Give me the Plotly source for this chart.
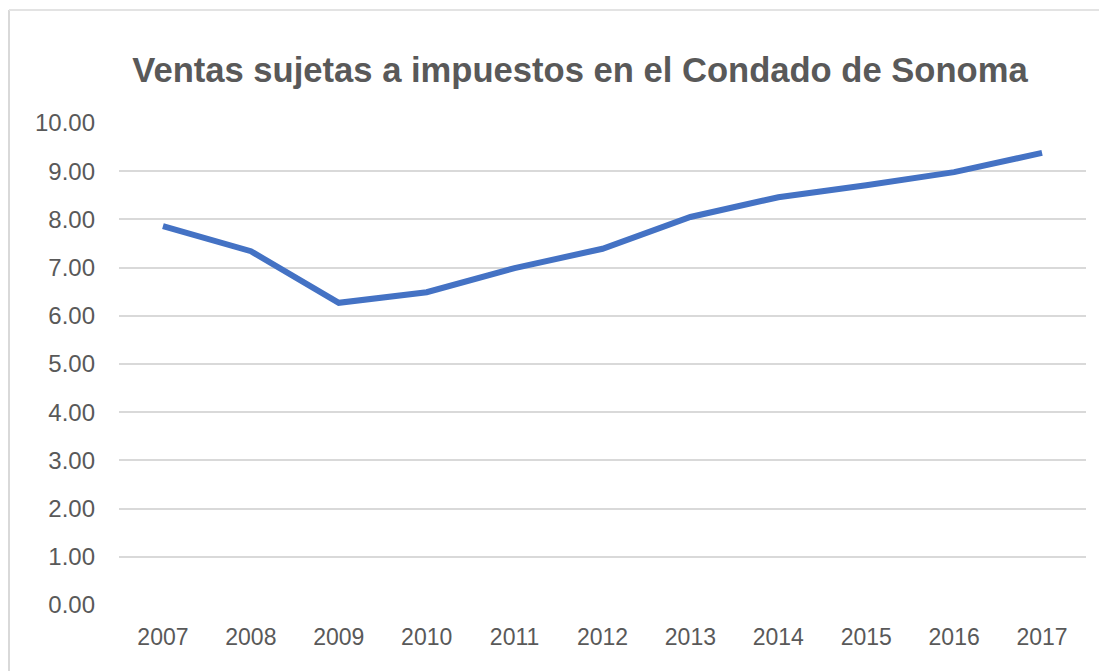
import plotly.graph_objects as go

years = ["2007", "2008", "2009", "2010", "2011", "2012", "2013", "2014", "2015", "2016", "2017"]
ventas = [7.86, 7.34, 6.27, 6.49, 6.99, 7.39, 8.05, 8.46, 8.71, 8.98, 9.38]
y_ticks = [0, 1, 2, 3, 4, 5, 6, 7, 8, 9, 10]
y_tick_labels = [f"{v:.2f}" for v in y_ticks]
title = "Ventas sujetas a impuestos en el Condado de Sonoma"

OFF = 8  # default page body margin
W, H = 1107 - OFF, 671 - OFF
L, R, T, B = 119 - OFF, 21, 123 - OFF, 66
pw, ph = W - L - R, H - T - B

fig = go.Figure()
fig.add_trace(go.Scatter(
    x=years, y=ventas, mode="lines",
    line=dict(color="#4472C4", width=6),
    hoverinfo="x+y", showlegend=False,
))

font_color = "#595959"
fig.update_layout(
    width=W, height=H,
    margin=dict(l=L, r=R, t=T, b=B),
    paper_bgcolor="white", plot_bgcolor="white",
    font=dict(family="Liberation Sans, Arial, Helvetica, sans-serif", color=font_color, size=24),
    title=dict(text="<b>" + title + "</b>", x=(580 - 119) / pw, xref="paper", xanchor="center",
               y=1 - (70 - OFF) / H, yanchor="middle", font=dict(size=34.6, color=font_color)),
    xaxis=dict(type="category", range=[-0.5, 10.5], showgrid=False, showline=False,
               zeroline=False, ticks="", tickfont=dict(size=23, color=font_color), ticklabelstandoff=16),
    yaxis=dict(range=[0, 10], tickvals=y_ticks, ticktext=y_tick_labels, showgrid=True,
               gridcolor="#d9d9d9", gridwidth=2, zeroline=False, showline=False, ticks="",
               tickfont=dict(size=24, color=font_color), ticklabelstandoff=23),
    shapes=[
        dict(type="line", xref="paper", yref="paper",
             x0=(9 - 119) / pw, x1=(9 - 119) / pw, y0=(605 - 10) / ph, y1=(605 - 680) / ph,
             line=dict(color="#d9d9d9", width=2)),
        dict(type="line", xref="paper", yref="paper",
             x0=(9 - 119) / pw, x1=(1120 - 119) / pw, y0=(605 - 10) / ph, y1=(605 - 10) / ph,
             line=dict(color="#e3e3e3", width=2)),
    ],
)

fig.write_html("out.html")
